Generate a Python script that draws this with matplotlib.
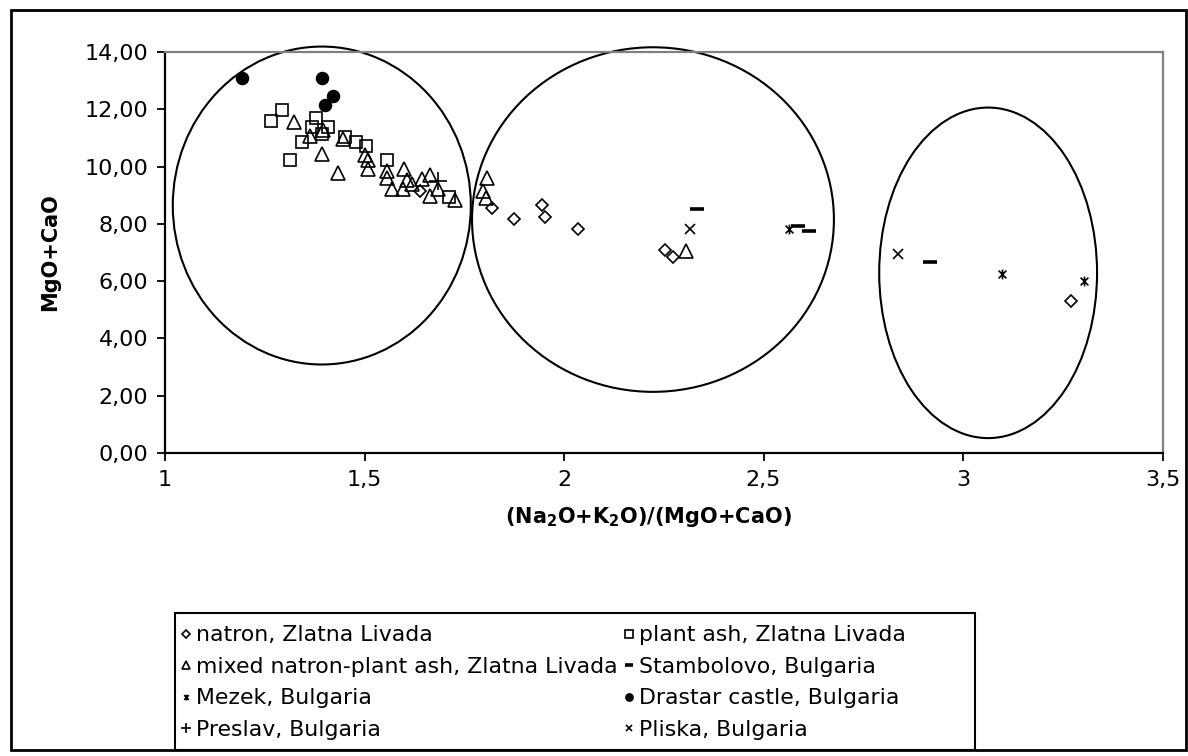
import numpy as np
import matplotlib
matplotlib.use("Agg")
import matplotlib.pyplot as plt
from matplotlib.patches import Ellipse, Rectangle
from matplotlib.path import Path
from matplotlib.ticker import FuncFormatter, MultipleLocator

# ---- data ----
natron_x = [1.64, 1.82, 1.875, 1.944, 1.952, 2.036, 2.253, 2.272, 3.27]
natron_y = [9.14, 8.55, 8.17, 8.67, 8.24, 7.83, 7.10, 6.86, 5.29]

plant_x = [1.266, 1.294, 1.378, 1.368, 1.394, 1.409, 1.344, 1.313, 1.451, 1.478, 1.505, 1.556, 1.713]
plant_y = [11.60, 11.96, 11.68, 11.39, 11.12, 11.39, 10.85, 10.22, 11.04, 10.85, 10.71, 10.22, 8.93]

mixed_x = [1.324, 1.363, 1.397, 1.393, 1.433, 1.447, 1.500, 1.510, 1.510, 1.556, 1.556, 1.600,
           1.570, 1.596, 1.606, 1.620, 1.643, 1.663, 1.663, 1.683, 1.727, 1.806, 1.796, 1.805, 2.306]
mixed_y = [11.56, 11.08, 11.29, 10.45, 9.78, 10.97, 10.40, 10.24, 9.92, 9.84, 9.60, 9.92,
           9.20, 9.20, 9.52, 9.40, 9.55, 9.70, 8.99, 9.20, 8.85, 9.60, 9.14, 8.90, 7.04]

stambolovo_x = [2.333, 2.587, 2.615, 2.917]
stambolovo_y = [8.52, 7.91, 7.76, 6.68]

mezek_x = [2.565, 3.097, 3.304]
mezek_y = [7.82, 6.25, 5.99]

drastar_x = [1.192, 1.393, 1.420, 1.400]
drastar_y = [13.10, 13.10, 12.48, 12.14]

preslav_x = [1.685]
preslav_y = [9.49]

pliska_x = [2.316, 2.838]
pliska_y = [7.83, 6.95]

# group outlines: (centre x, centre y, width, height)
groups = [(1.393, 8.64, 0.747, 11.10),
          (2.223, 8.15, 0.907, 12.03),
          (3.063, 6.29, 0.546, 11.54)]

labels = ["natron, Zlatna Livada", "plant ash, Zlatna Livada",
          "mixed natron-plant ash, Zlatna Livada", "Stambolovo, Bulgaria",
          "Mezek, Bulgaria", "Drastar castle, Bulgaria",
          "Preslav, Bulgaria", "Pliska, Bulgaria"]

# x with a vertical bar, like the Excel star marker
star = Path([(-1, -1), (1, 1), (-1, 1), (1, -1), (0, -1.25), (0, 1.25)],
            [Path.MOVETO, Path.LINETO, Path.MOVETO, Path.LINETO, Path.MOVETO, Path.LINETO])

plt.rcParams['mathtext.default'] = 'bf'

W, H = 1188, 756
fig = plt.figure(figsize=(W / 100, H / 100), dpi=100)
ax = fig.add_axes([165 / W, 1 - 453 / H, (1162.5 - 165) / W, (453 - 52) / H])

common = dict(linestyle='none', color='black', mec='black', mew=1.2)
h_nat, = ax.plot(natron_x, natron_y, marker='D', ms=6.6, mfc='none', label=labels[0], **common)
h_pla, = ax.plot(plant_x, plant_y, marker='s', ms=8.5, mfc='none', label=labels[1], **common)
h_mix, = ax.plot(mixed_x, mixed_y, marker='^', ms=10, mfc='none', label=labels[2], **common)
h_sta, = ax.plot(stambolovo_x, stambolovo_y, marker='_', ms=9.5, label=labels[3],
                 linestyle='none', color='black', mew=2.6)
h_mez, = ax.plot(mezek_x, mezek_y, marker=star, ms=7, mfc='none', label=labels[4], **common)
h_dra, = ax.plot(drastar_x, drastar_y, marker='o', ms=8.5, mfc='black', label=labels[5], **common)
h_pre, = ax.plot(preslav_x, preslav_y, marker='+', ms=13, label=labels[6], **common)
h_pli, = ax.plot(pliska_x, pliska_y, marker='x', ms=7, label=labels[7], **common)

for cx, cy, w, h in groups:
    ax.add_patch(Ellipse((cx, cy), w, h, fill=False, edgecolor='black', lw=1.5, clip_on=False))

ax.set_xlim(1, 3.5)
ax.set_ylim(0, 14)
ax.xaxis.set_major_locator(MultipleLocator(0.5))
ax.yaxis.set_major_locator(MultipleLocator(2))
ax.xaxis.set_major_formatter(FuncFormatter(lambda v, p: f"{v:g}".replace('.', ',')))
ax.yaxis.set_major_formatter(FuncFormatter(lambda v, p: f"{v:.2f}".replace('.', ',')))
ax.tick_params(direction='out', length=6, width=1.3, labelsize=16, colors='black')
ax.tick_params(axis='y', pad=6)
ax.tick_params(axis='x', pad=6)

for s in ['left', 'bottom']:
    ax.spines[s].set_color('black')
    ax.spines[s].set_linewidth(1.6)
for s in ['top', 'right']:
    ax.spines[s].set_color('#808080')
    ax.spines[s].set_linewidth(1.6)

ax.set_xlabel("(Na$_2$O+K$_2$O)/(MgO+CaO)", fontsize=15, fontweight='bold', va='center')
ax.xaxis.set_label_coords((648 - 165) / 997.5, -(517 - 453) / 401)
ax.set_ylabel("MgO+CaO", fontsize=15, fontweight='bold', va='center')
ax.yaxis.set_label_coords(-(165 - 50) / 997.5, 0.5)

# legend: Excel order runs across rows, matplotlib fills columns
handles = [h_nat, h_mix, h_mez, h_pre, h_pla, h_sta, h_dra, h_pli]
leg = fig.legend(handles=handles, labels=[h.get_label() for h in handles], ncol=2,
                 loc='upper left', bbox_to_anchor=(176 / W, 1 - 621 / H), borderaxespad=0,
                 frameon=False, fontsize=15.8, markerscale=0.6, handlelength=0.5,
                 handletextpad=0.2, columnspacing=0.3, labelspacing=0.52, borderpad=0.2)

# legend box and outer chart border
fig.add_artist(Rectangle((175 / W, 1 - 750 / H), 800 / W, 137 / H, transform=fig.transFigure,
                         fill=False, edgecolor='black', lw=1.5))
fig.add_artist(Rectangle((11 / W, 1 - 750 / H), 1175 / W, 740 / H, transform=fig.transFigure,
                         fill=False, edgecolor='black', lw=2))

fig.savefig("out.png", dpi=100)
